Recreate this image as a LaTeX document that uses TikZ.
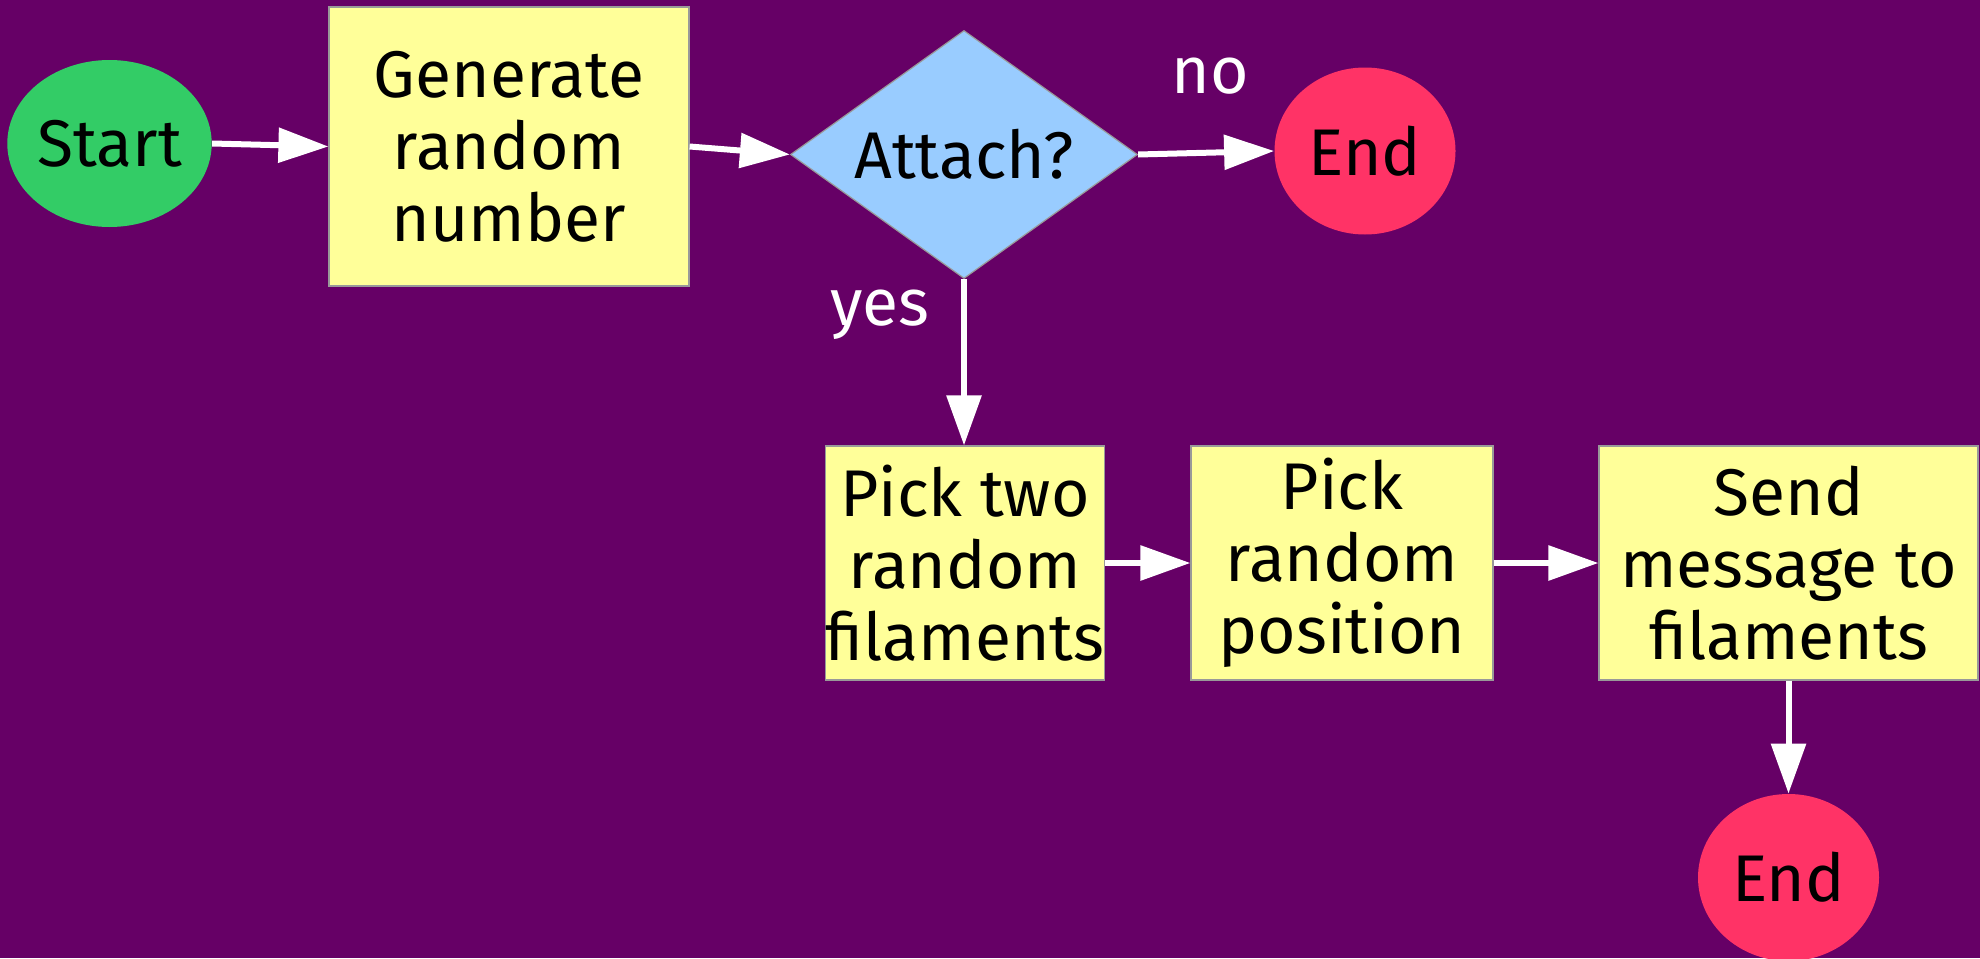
\documentclass[tikz,border=0pt]{standalone}
\usepackage{fontspec}
\setmainfont{Fira Sans}
\usetikzlibrary{shapes.geometric,arrows.meta}
\definecolor{bg}{HTML}{660066}
\definecolor{boxy}{HTML}{FFFF99}
\definecolor{startg}{HTML}{33CC66}
\definecolor{endr}{HTML}{FF3366}
\definecolor{decb}{HTML}{99CCFF}
\begin{document}
\begin{tikzpicture}[x=0.5pt,y=-0.5pt,
  every node/.style={font=\fontsize{33}{36}\selectfont, inner sep=0pt},
  procbox/.style={rectangle, fill=boxy, draw=gray!80, line width=0.6pt, align=center},
  termstart/.style={ellipse, fill=startg, minimum width=98.5pt, minimum height=83.5pt},
  termend/.style={ellipse, fill=endr, minimum width=90.5pt, minimum height=83.5pt},
  decide/.style={diamond, fill=decb, draw=gray!80, line width=0.6pt, aspect=1.4, minimum width=173.5pt, minimum height=124pt},
  flow/.style={draw=white, line width=3pt, -{Triangle[length=25pt,width=17pt]}},
  lbl/.style={text=white}]
\fill[bg] (0,0) rectangle (1980,958);
\useasboundingbox (0,0) rectangle (1980,958);

\node[termstart] (start) at (109.5,143.5) {Start};
\node[procbox, minimum width=180pt, minimum height=139.5pt] (gen) at (509,146.5) {Generate\\random\\number};
\node[decide] (dia) at (964,154.5) {Attach?};
\node[termend] (end1) at (1365,151) {End};
\node[procbox, minimum width=136pt, minimum height=117pt] (pick2) at (965,563) {Pick two\\random\\filaments};
\node[procbox, minimum width=151pt, minimum height=117pt] (pickpos) at (1342,563) {Pick\\random\\position};
\node[procbox, minimum width=189.5pt, minimum height=117pt] (send) at (1788.5,563) {Send\\message to\\filaments};
\node[termend] (end2) at (1788.5,877.5) {End};

\node[lbl, anchor=base] (nolbl) at (1210,93) {no};
\node[lbl, anchor=base] (yeslbl) at (880,325) {yes};

\draw[flow] (start.east) -- (gen.west);
\draw[flow] (gen.east) -- (dia.west);
\draw[flow] (dia.east) -- (end1.west);
\draw[flow] (dia.south) -- (dia.south |- pick2.north);
\draw[flow] (pick2.east) -- (pickpos.west);
\draw[flow] (pickpos.east) -- (send.west);
\draw[flow] (send.south) -- (end2.north);
\end{tikzpicture}
\end{document}
